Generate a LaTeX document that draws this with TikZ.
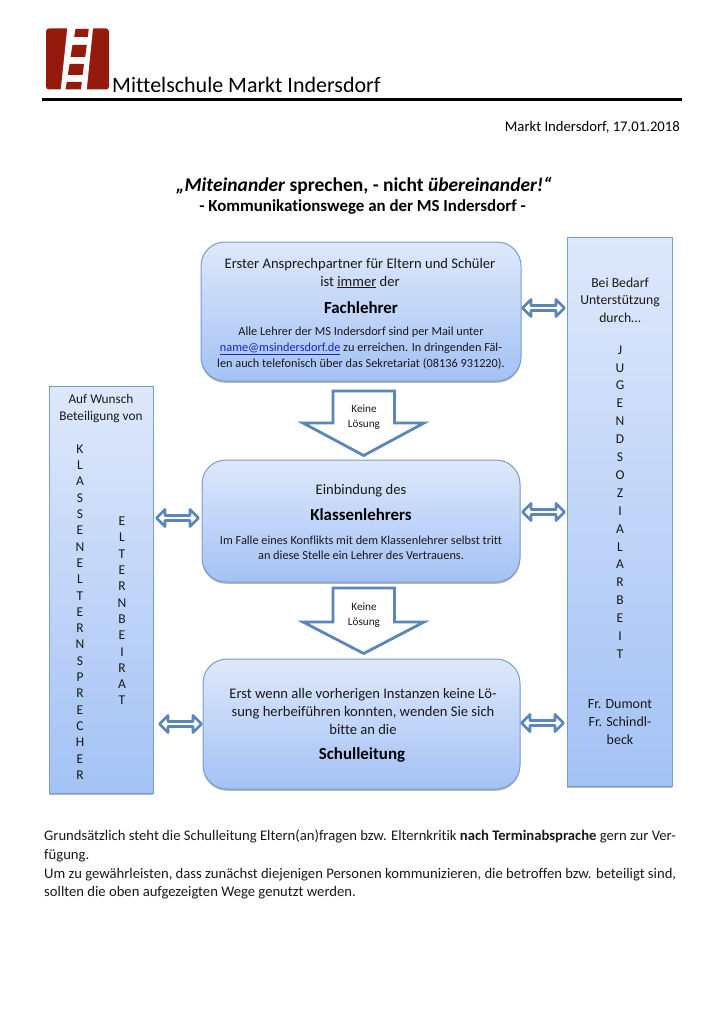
\documentclass[tikz,border=0pt]{standalone}
\usepackage{fontspec}
\setmainfont{Carlito}[Ligatures={NoCommon}]
\usetikzlibrary{shapes.arrows,shadows}
\definecolor{logored}{HTML}{951A0E}
\definecolor{edgeblue}{HTML}{7A9CCA}
\definecolor{arrowblue}{HTML}{5B86B8}
\definecolor{gradtop}{HTML}{DEE8FB}
\definecolor{gradbot}{HTML}{A3C2F5}
\definecolor{linkblue}{HTML}{1F22B8}
\tikzset{
  x=1pt,y=-1pt,
  panel/.style={draw=edgeblue,line width=1pt,top color=gradtop,bottom color=gradbot,
    drop shadow={shadow xshift=0pt,shadow yshift=-1.8pt,opacity=.4,fill=black!70}},
  roundbox/.style={panel,rounded corners=24pt},
  barbox/.style={panel},
  twoway/.style={shape=double arrow,draw=arrowblue,fill=white,line width=2.8pt,line join=round,
    double arrow head extend=3.5pt,minimum height=42pt,minimum width=17pt,inner sep=0pt,
    double arrow tip angle=90},
  downblock/.style={draw=arrowblue,fill=white,line width=2.8pt,line join=miter},
  txt/.style={align=center,inner sep=0pt,text=black!90,font=\fontsize{14.6}{18}\selectfont},
  small/.style={align=center,inner sep=0pt,text=black!90,font=\fontsize{12.3}{16}\selectfont},
  head/.style={align=center,inner sep=0pt,text=black,font=\fontsize{16.9}{20}\selectfont\bfseries},
  letters/.style={align=center,inner sep=0pt,text=black!90,font=\fontsize{13.5}{16.3}\selectfont},
  para/.style={anchor=north west,inner sep=0pt,text=black!90,font=\fontsize{14.65}{18.6}\selectfont,align=left},
}
\begin{document}
\begin{tikzpicture}
\useasboundingbox[fill=white] (0,0) rectangle (724,1024);
% logo
\fill[logored,rounded corners=3pt] (46,28.5) rectangle (109,89.5);
\fill[white] (67.3,28) -- (93,28) -- (86.7,90) -- (60.7,90) -- cycle;
\fill[logored] (75.5,29) -- (88.7,29) -- (87.8,37) -- (74.2,37) -- cycle;
\fill[logored] (72.5,45) -- (86.8,45) -- (85.2,57) -- (70.5,57) -- cycle;
\fill[logored] (69.6,64) -- (84,64) -- (82.6,75) -- (67.8,75) -- cycle;
\fill[logored] (66.8,82) -- (81.8,82) -- (81,89.5) -- (65.5,89.5) -- cycle;
\node[anchor=base west,inner sep=0pt,font=\fontsize{22}{24}\selectfont] (school) at (112,92.5) {Mittelschule Markt Indersdorf};
\draw[line width=2.6pt] (42,99.5) -- (682,99.5);
\node[anchor=base east,inner sep=0pt,font=\fontsize{14.7}{16}\selectfont] (date) at (680,132) {Markt Indersdorf, 17.01.2018};
\node[anchor=base,inner sep=0pt,font=\fontsize{19.5}{22}\selectfont\bfseries] (title) at (364,192) {\itshape „Miteinander\/ \upshape sprechen, - nicht \itshape übereinander!“};
\node[anchor=base,inner sep=0pt,font=\fontsize{16.9}{18}\selectfont\bfseries] (subtitle) at (362.5,211.5) {- Kommunikationswege an der MS Indersdorf -};
% panels
\path[roundbox] (201,242) rectangle (521,381);
\path[roundbox] (202,460) rectangle (520,582);
\path[roundbox] (203,659) rectangle (520,789);
\path[barbox] (567,237) rectangle (672,786);
\path[barbox] (49,386) rectangle (153,793);
% box 1
\node[txt] (b1a) at (360,273) {Erster Ansprechpartner für Eltern und Schüler\\ist \underline{immer} der};
\node[head] (b1b) at (361,308) {Fachlehrer};
\node[small] (b1c) at (361,348) {Alle Lehrer der MS Indersdorf sind per Mail unter\\
  \textcolor{linkblue}{\underline{name@msindersdorf.de}} zu erreichen. In dringenden Fäl-\\
  len auch telefonisch über das Sekretariat (08136 931220).};
% box 2
\node[txt] (b2a) at (361,490.5) {Einbindung des};
\node[head] (b2b) at (361,515) {Klassenlehrers};
\node[small,font=\fontsize{12.3}{15.5}\selectfont] (b2c) at (361,548) {Im Falle eines Konflikts mit dem Klassenlehrer selbst tritt\\an diese Stelle ein Lehrer des Vertrauens.};
% box 3
\node[txt] (b3a) at (363,711) {Erst wenn alle vorherigen Instanzen keine Lö-\\sung herbeiführen konnten, wenden Sie sich\\bitte an die};
\node[head] (b3b) at (362,755) {Schulleitung};
% right bar
\node[small,font=\fontsize{13.7}{17.5}\selectfont] (r1) at (620,300) {Bei Bedarf\\Unterstützung\\durch…};
\node[letters,font=\fontsize{13.5}{17.9}\selectfont] (r2) at (620,502) {J\\U\\G\\E\\N\\D\\S\\O\\Z\\I\\A\\L\\A\\R\\B\\E\\I\\T};
\node[small,font=\fontsize{14}{18.3}\selectfont] (r3) at (620,722) {Fr. Dumont\\Fr. Schindl-\\beck};
% left bar
\node[small,font=\fontsize{13.3}{17}\selectfont] (l1) at (101,408.5) {Auf Wunsch\\Beteiligung von};
\node[letters] (l2) at (80,612) {K\\L\\A\\S\\S\\E\\N\\E\\L\\T\\E\\R\\N\\S\\P\\R\\E\\C\\H\\E\\R};
\node[letters] (l3) at (122,611) {E\\L\\T\\E\\R\\N\\B\\E\\I\\R\\A\\T};
% down arrows
\draw[downblock] (333,391) -- (394.5,391) -- (394.5,423) -- (424,423) -- (363.7,455.5) -- (303,423) -- (333,423) -- cycle;
\node[small,font=\fontsize{11.2}{15}\selectfont] (k1) at (364,417) {Keine\\Lösung};
\draw[downblock] (333,588) -- (394.5,588) -- (394.5,622) -- (424,622) -- (363.7,653.5) -- (303,622) -- (333,622) -- cycle;
\node[small,font=\fontsize{11.2}{15}\selectfont] (k2) at (364,615) {Keine\\Lösung};
% two-way arrows
\node[twoway] (a1) at (543.5,308) {};
\node[twoway] (a2) at (543.5,512) {};
\node[twoway] (a3) at (542.5,723) {};
\node[twoway] (a4) at (177.5,518) {};
\node[twoway] (a5) at (180.5,724) {};
% bottom text
\node[para] (p) at (44,830) {Grundsätzlich steht die Schulleitung Eltern(an)fragen bzw. Elternkritik \textbf{nach Terminabsprache} gern zur Ver-\\fügung.\\Um zu gewährleisten, dass zunächst diejenigen Personen kommunizieren, die betroffen bzw. beteiligt sind,\\sollten die oben aufgezeigten Wege genutzt werden.};
\end{tikzpicture}
\end{document}
